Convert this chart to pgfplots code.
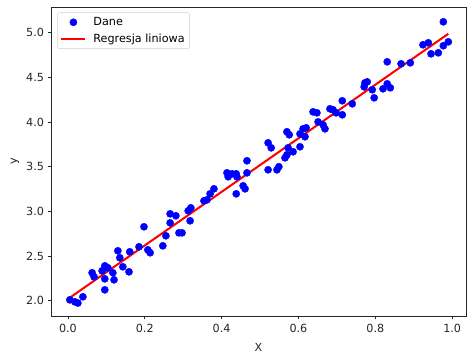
\documentclass[border=0pt]{standalone}
\usepackage{fontspec}
\setmainfont{DejaVu Sans}
\usepackage{pgfplots}
\pgfplotsset{compat=1.18}
\pgfplotsset{
  scatleg/.style={legend image code/.code={\draw[mark repeat=2,mark phase=2,##1] plot coordinates {(0pt,0pt) (12pt,0pt) (24pt,0pt)};}},
  lineleg/.style={legend image code/.code={\draw[##1] (0pt,0pt) -- (24pt,0pt);}},
}
\newcommand{\fs}{\fontsize{11.2}{13}\selectfont}
\pgfplotstableread{
x y
0.005 2.011
0.018 1.989
0.026 1.975
0.039 2.045
0.096 2.123
0.063 2.314
0.068 2.269
0.089 2.336
0.096 2.392
0.104 2.370
0.096 2.246
0.117 2.314
0.120 2.235
0.130 2.560
0.135 2.482
0.143 2.381
0.159 2.325
0.161 2.549
0.185 2.605
0.198 2.829
0.208 2.571
0.214 2.538
0.247 2.616
0.255 2.728
0.266 2.974
0.266 2.873
0.281 2.952
0.289 2.761
0.297 2.761
0.313 3.008
0.320 3.041
0.318 2.896
0.354 3.120
0.362 3.131
0.370 3.198
0.380 3.254
0.414 3.433
0.417 3.389
0.427 3.422
0.438 3.422
0.440 3.389
0.438 3.198
0.456 3.288
0.461 3.254
0.466 3.433
0.466 3.568
0.521 3.467
0.521 3.769
0.529 3.713
0.544 3.467
0.549 3.501
0.565 3.601
0.570 3.635
0.573 3.713
0.570 3.893
0.576 3.859
0.586 3.669
0.604 3.725
0.604 3.870
0.612 3.926
0.620 3.937
0.617 3.837
0.638 4.116
0.648 4.105
0.651 4.004
0.664 3.971
0.669 3.926
0.682 4.150
0.690 4.139
0.698 4.105
0.714 4.083
0.714 4.240
0.740 4.206
0.771 4.396
0.773 4.441
0.779 4.452
0.792 4.363
0.797 4.273
0.820 4.374
0.831 4.430
0.839 4.385
0.831 4.676
0.867 4.654
0.891 4.665
0.924 4.867
0.938 4.889
0.945 4.766
0.964 4.777
0.977 4.856
0.990 4.900
0.977 5.124
}\dane
\begin{document}
\begin{tikzpicture}[x=1pt,y=1pt]
\useasboundingbox (0,0) rectangle (474,361);
\begin{axis}[at={(51pt,45pt)}, anchor=south west, scale only axis,
  width=415pt, height=309pt,
  xmin=-0.044, xmax=1.036, ymin=1.83, ymax=5.29,
  xtick={0,0.2,0.4,0.6,0.8,1.0}, xticklabels={0.0,0.2,0.4,0.6,0.8,1.0},
  ytick={2,2.5,3,3.5,4,4.5,5}, yticklabels={2.0,2.5,3.0,3.5,4.0,4.5,5.0},
  tick align=outside, tick pos=left, major tick length=3.5pt,
  axis line style={line width=0.8pt, black!85},
  every tick/.style={line width=0.8pt, black!85},
  font=\fs,
  ticklabel style={font=\fs, text=black!85},
  xticklabel style={yshift=-1.5pt},
  xlabel={X}, ylabel={y},
  xlabel style={font=\fs, text=black!85, yshift=-3pt},
  ylabel style={font=\fs, text=black!85},
  legend cell align=left,
  legend style={at={(0.015,0.983)}, anchor=north west, draw=black!18,
    rounded corners=2pt, fill=white, font=\fs,
    inner xsep=3pt, inner ysep=3pt, row sep=2.5pt,
    /tikz/every odd column/.append style={column sep=5pt}},
  clip=false,
]
\addplot[only marks, mark=*, mark size=3.6pt, color=blue, fill=blue, scatleg]
  table[x=x, y=y] {\dane};
\addlegendentry{Dane}
\addplot[color=red, line width=2pt, lineleg] coordinates {(0.005,2.035) (0.990,4.990)};
\addlegendentry{Regresja liniowa}
\end{axis}
\end{tikzpicture}
\end{document}
